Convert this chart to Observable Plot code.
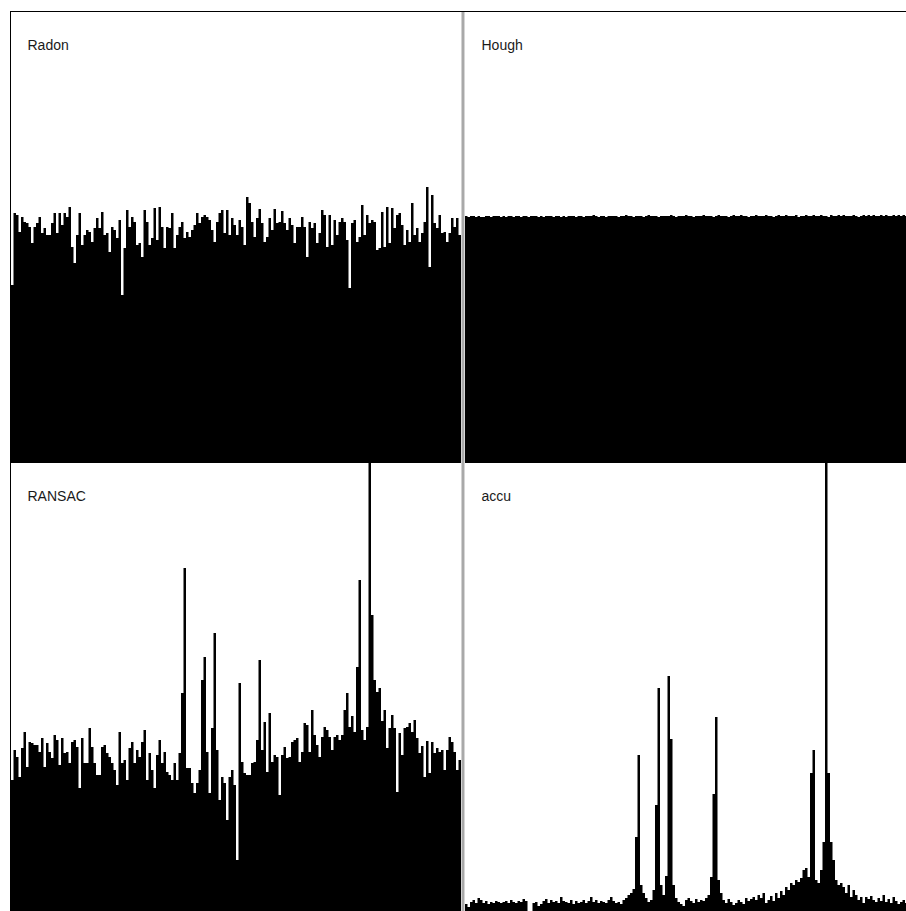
<!DOCTYPE html>
<html>
<head>
<meta charset="utf-8">
<script src="https://cdn.jsdelivr.net/npm/d3@7"></script>
<script src="https://cdn.jsdelivr.net/npm/@observablehq/plot@0.6"></script>
<style>
  html, body { margin: 0; padding: 0; background: #fff; }
  #wrap { position: relative; width: 906px; height: 911px; overflow: hidden; background: #fff; }
  .panel { position: absolute; overflow: hidden; }
  .panel svg { display: block; }
  #borderTop { position: absolute; left: 10px; top: 11px; width: 900px; height: 1px; background: #000; }
  #borderLeft { position: absolute; left: 10px; top: 11px; width: 1px; height: 900px; background: #000; }
  #divider { position: absolute; left: 461px; top: 12px; width: 4px; height: 899px;
    background: linear-gradient(to right, #d2d2d2 0, #d2d2d2 1px, #a9a9a9 1px, #a9a9a9 3px, #d6d6d6 3px); }
</style>
</head>
<body>
<div id="wrap">
  <div id="borderTop"></div>
  <div id="borderLeft"></div>
  <div id="divider"></div>
</div>
<script>
// Panel titles
const titles = ["Radon", "Hough", "RANSAC", "accu"];

// Histogram heights per angle bin (0..179)
const radon = [
178,250,248,231,246,241,240,236,220,236,240,246,230,235,228,228,240,250,230,250,
238,250,246,256,216,200,228,250,218,228,233,231,221,235,245,235,251,228,230,211,
236,233,225,243,168,215,253,236,246,241,218,220,206,253,241,218,225,255,223,256,
236,215,236,235,250,215,228,236,241,225,231,226,233,238,250,240,246,248,246,243,
233,221,241,250,253,230,253,228,245,238,228,243,236,218,266,260,241,226,245,254,
240,221,226,245,233,254,240,241,252,240,233,245,238,220,236,236,246,236,206,241,
235,240,220,230,253,248,216,248,218,243,228,241,245,241,223,175,240,243,221,226,
258,228,248,240,243,241,213,215,251,216,256,220,255,235,248,250,238,218,233,221,
260,228,235,221,230,241,276,196,268,240,235,248,230,231,221,230,245,236,245,228
];

const hough = [
247,246,247,247,246,247,246,246,247,247,246,247,247,247,246,247,246,247,247,246,
247,247,246,247,247,246,247,247,247,246,247,246,247,247,247,246,247,247,246,247,
246,247,247,247,246,247,247,246,247,247,247,248,247,246,247,247,246,247,247,247,
247,246,247,247,248,247,247,246,247,247,247,246,247,248,247,247,247,246,247,247,
247,247,248,247,246,247,247,247,248,247,247,246,247,247,247,248,247,247,247,246,
247,248,247,247,247,246,247,248,247,247,248,247,247,246,247,247,248,247,247,247,
248,247,247,246,247,248,247,247,248,247,247,247,248,246,247,247,248,247,247,248,
247,247,248,247,247,246,248,247,247,248,247,248,247,247,247,248,247,246,247,248,
247,248,247,248,247,247,248,247,248,247,247,248,247,248,247,248,247,247,248,247
];

const ransac = [
135,165,158,138,167,183,148,173,172,170,170,163,177,148,172,163,157,180,175,150,
177,162,163,152,173,175,168,127,177,152,152,187,168,152,140,140,168,170,162,158,
152,145,130,183,152,155,135,167,173,152,165,158,173,185,135,162,145,127,160,175,
152,163,143,140,135,152,135,162,222,347,147,147,132,122,132,145,235,258,163,122,
187,282,165,115,138,132,95,138,145,130,55,232,153,142,140,140,152,153,175,255,
165,193,143,202,153,160,158,120,160,168,157,158,173,175,177,153,163,192,190,163,
205,180,170,158,178,188,185,178,165,178,180,175,180,205,222,188,199,183,248,335,
185,175,188,470,300,235,223,227,194,205,167,187,200,187,123,182,160,187,188,192,
183,195,177,162,169,138,174,142,173,162,167,163,165,145,165,178,173,163,145,155
];

const accu = [
11,8,13,15,12,17,15,12,14,11,13,12,14,13,12,13,14,12,15,13,
12,14,13,16,14,4,3,12,13,9,11,14,16,12,15,13,14,12,18,14,
13,12,15,11,14,12,13,15,12,14,18,13,15,12,14,13,12,15,18,14,
12,13,11,15,17,20,22,26,78,160,30,22,17,13,15,25,110,227,30,20,
39,239,176,30,17,13,11,9,15,17,14,12,16,13,15,14,17,20,38,121,
198,35,22,15,12,16,13,10,12,15,13,11,17,14,16,18,15,20,17,22,
12,15,19,14,22,17,24,20,28,25,32,30,35,33,37,45,47,38,142,165,
35,32,45,73,470,142,73,55,35,30,32,28,22,30,18,25,20,15,18,12,
18,16,19,15,13,17,14,20,13,16,12,18,14,11,13,15,12,11,14,10
];

const panels = [
  {title: titles[0], values: radon,  left: 11,  top: 12,  width: 450, height: 451},
  {title: titles[1], values: hough,  left: 465, top: 12,  width: 450, height: 451},
  {title: titles[2], values: ransac, left: 11,  top: 463, width: 450, height: 452},
  {title: titles[3], values: accu,   left: 465, top: 463, width: 450, height: 452}
];

const wrap = document.getElementById("wrap");
for (const p of panels) {
  const n = p.values.length;
  // step outline: each bin spans [i, i+1); closing point at n
  const data = p.values.map((v, i) => ({bin: i, value: v}));
  data.push({bin: n, value: p.values[n - 1]});
  const chart = Plot.plot({
    width: p.width,
    height: p.height,
    margin: 0,
    style: {background: "transparent", fontFamily: "'Liberation Sans', Arial, sans-serif", overflow: "hidden"},
    x: {type: "linear", domain: [0, n], axis: null},
    y: {domain: [0, p.height], axis: null},
    marks: [
      Plot.areaY(data, {x: "bin", y: "value", curve: "step-after", fill: "black", clip: true}),
      Plot.text([p.title], {frameAnchor: "top-left", dx: 16, dy: 28, lineAnchor: "top",
        textAnchor: "start", fontSize: 14, fill: "#1a1a1a"})
    ]
  });
  const div = document.createElement("div");
  div.className = "panel";
  div.style.left = p.left + "px";
  div.style.top = p.top + "px";
  div.style.width = p.width + "px";
  div.style.height = p.height + "px";
  div.appendChild(chart);
  wrap.insertBefore(div, document.getElementById("divider"));
}
</script>
</body>
</html>
